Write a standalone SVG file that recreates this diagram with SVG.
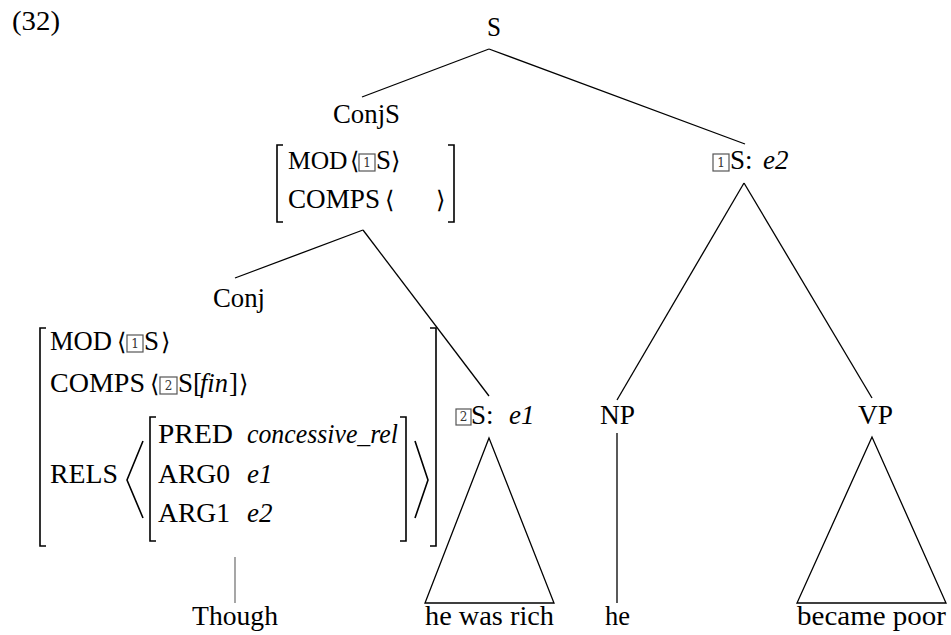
<svg xmlns="http://www.w3.org/2000/svg" width="951" height="635" viewBox="0 0 951 635">
<style>
text{font-family:'Liberation Serif','DejaVu Serif',serif;font-size:27px;fill:#000}
.it{font-style:italic}
.ang{font-family:'DejaVu Serif',serif;font-size:24px}
.num{font-family:'DejaVu Serif',serif;font-size:12px;text-anchor:middle;fill:#333}
.box{fill:none;stroke:#555;stroke-width:1.2}
.br{fill:none;stroke:#000;stroke-width:1.6}
.edge{fill:none;stroke:#000;stroke-width:1.3}
</style>
<rect width="951" height="635" fill="#fff"/>
<g font-family="Liberation Serif, DejaVu Serif, serif">
<text x="12" y="30" textLength="48" lengthAdjust="spacingAndGlyphs">(32)</text>

<g id="connectors">
<line class="edge" x1="489" y1="49" x2="362" y2="97"/>
<line class="edge" x1="489" y1="49" x2="745" y2="144"/>
<line class="edge" x1="363" y1="230" x2="235" y2="278"/>
<line class="edge" x1="363" y1="230" x2="489" y2="396"/>
<line class="edge" x1="744" y1="183" x2="617" y2="400"/>
<line class="edge" x1="744" y1="183" x2="872" y2="398"/>
<line class="edge" x1="617" y1="433" x2="617" y2="603"/>
<line x1="235" y1="557" x2="235" y2="603" stroke="#777" stroke-width="1.3"/>
<polygon class="edge" points="489,438 425,603 554,603"/>
<polygon class="edge" points="872,437 797,603 946,603"/>
</g>

<g id="node-S">
<text x="487" y="36" textLength="14" lengthAdjust="spacingAndGlyphs">S</text>
</g>

<g id="node-ConjS">
<text x="333" y="123" textLength="67" lengthAdjust="spacingAndGlyphs">ConjS</text>
<path class="br" d="M283,145 H277 V222 H283"/>
<path class="br" d="M448,145 H454 V222 H448"/>
<text x="288" y="169" style="font-size:25.5px">MOD</text>
<text class="ang" x="350" y="169">⟨</text>
<rect class="box" x="359" y="154" width="16" height="17"/>
<text class="num" x="367" y="167">1</text>
<text x="376" y="169">S</text>
<text class="ang" x="391" y="169">⟩</text>
<text x="288" y="208" textLength="92" lengthAdjust="spacingAndGlyphs">COMPS</text>
<text class="ang" x="385" y="208">⟨</text>
<text class="ang" x="436" y="208">⟩</text>
</g>

<g id="node-Conj">
<text x="213" y="307" textLength="52" lengthAdjust="spacingAndGlyphs">Conj</text>
<path class="br" d="M46,328 H40 V546 H46"/>
<path class="br" d="M430,328 H436 V546 H430"/>
<text x="50" y="350" textLength="62" lengthAdjust="spacingAndGlyphs">MOD</text>
<text class="ang" x="117" y="350">⟨</text>
<rect class="box" x="127" y="335" width="16" height="17"/>
<text class="num" x="135" y="348">1</text>
<text x="144" y="350">S</text>
<text class="ang" x="161" y="350">⟩</text>
<text x="50" y="392" textLength="95" lengthAdjust="spacingAndGlyphs">COMPS</text>
<text class="ang" x="150" y="392">⟨</text>
<rect class="box" x="160" y="377" width="17" height="17"/>
<text class="num" x="168.5" y="390">2</text>
<text x="178" y="392">S[</text>
<text class="it" x="200" y="392" textLength="28" lengthAdjust="spacingAndGlyphs">fin</text>
<text x="229" y="392">]</text>
<text class="ang" x="239" y="392">⟩</text>
<text x="50" y="483" textLength="68" lengthAdjust="spacingAndGlyphs">RELS</text>
<path class="br" d="M143,441 L127,480 L143,518"/>
<path class="br" d="M156,417 H150 V541 H156"/>
<path class="br" d="M400,417 H406 V541 H400"/>
<path class="br" d="M415,441 L428,480 L415,518"/>
<text x="158" y="443" textLength="75" lengthAdjust="spacingAndGlyphs">PRED</text>
<text class="it" x="247" y="443" textLength="151" lengthAdjust="spacingAndGlyphs">concessive_rel</text>
<text x="158" y="483" textLength="72" lengthAdjust="spacingAndGlyphs">ARG0</text>
<text class="it" x="247" y="483">e1</text>
<text x="158" y="522" textLength="72" lengthAdjust="spacingAndGlyphs">ARG1</text>
<text class="it" x="247" y="522">e2</text>
</g>

<g id="node-S2">
<rect class="box" x="456" y="409" width="15" height="16"/>
<text class="num" x="463.5" y="421">2</text>
<text x="471" y="424">S:</text>
<text class="it" x="509" y="424">e1</text>
</g>

<g id="node-S1">
<rect class="box" x="713" y="154" width="16" height="17"/>
<text class="num" x="721" y="167">1</text>
<text x="730" y="169">S:</text>
<text class="it" x="763" y="169">e2</text>
</g>

<g id="node-NP">
<text x="600" y="424" textLength="35" lengthAdjust="spacingAndGlyphs">NP</text>
</g>
<g id="node-VP">
<text x="858" y="424" textLength="35" lengthAdjust="spacingAndGlyphs">VP</text>
</g>

<g id="leaf-Though"><text x="192" y="625" textLength="86" lengthAdjust="spacingAndGlyphs">Though</text></g>
<g id="leaf-hewasrich"><text x="425" y="625" textLength="129" lengthAdjust="spacingAndGlyphs">he was rich</text></g>
<g id="leaf-he"><text x="605" y="625" textLength="25" lengthAdjust="spacingAndGlyphs">he</text></g>
<g id="leaf-becamepoor"><text x="797" y="625" textLength="149" lengthAdjust="spacingAndGlyphs">became poor</text></g>
</g>
</svg>
